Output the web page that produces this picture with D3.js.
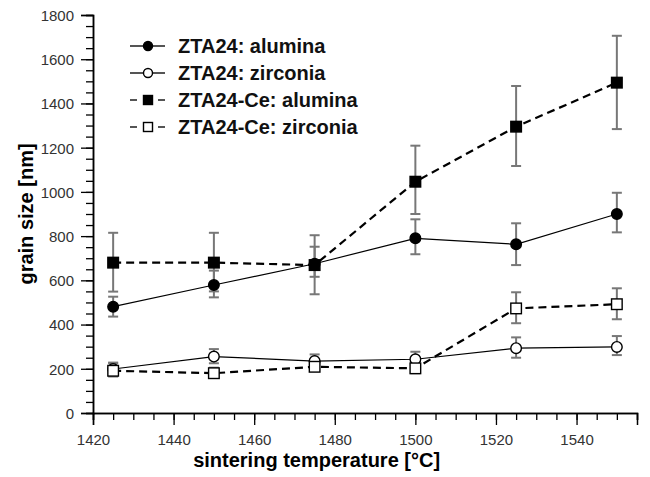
<!DOCTYPE html>
<html>
<head>
<meta charset="utf-8">
<script src="https://cdn.jsdelivr.net/npm/d3@7"></script>
<style>
  body { margin: 0; background: #fff; }
  svg text { font-family: Arial, "Liberation Sans", sans-serif; }
</style>
</head>
<body>
<svg id="chart"></svg>
<script>
// sintering temperatures (x)
var temps = [1425, 1450, 1475, 1500, 1525, 1550];

// ZTA24: alumina
var ztaAlu    = [481, 579, 675, 790, 763, 900];
var ztaAluLo  = [436, 523, 616, 718, 669, 817];
var ztaAluHi  = [526, 644, 752, 876, 858, 996];
// ZTA24: zirconia
var ztaZir    = [199, 255, 235, 243, 293, 299];
var ztaZirLo  = [175, 225, 205, 213, 250, 262];
var ztaZirHi  = [228, 289, 265, 277, 342, 348];
// ZTA24-Ce: alumina
var ceAlu     = [680, 680, 669, 1046, 1295, 1494];
var ceAluLo   = [549, 550, 537, 900, 1117, 1284];
var ceAluHi   = [815, 815, 804, 1209, 1479, 1706];
// ZTA24-Ce: zirconia
var ceZir     = [191, 180, 209, 202, 473, 492];
var ceZirLo   = [165, 160, 190, 180, 406, 424];
var ceZirHi   = [225, 205, 230, 225, 546, 564];

var seriesNames = ['ZTA24: alumina', 'ZTA24: zirconia', 'ZTA24-Ce: alumina', 'ZTA24-Ce: zirconia'];
var xTicks = [1420, 1440, 1460, 1480, 1500, 1520, 1540];
var yTicks = [0, 200, 400, 600, 800, 1000, 1200, 1400, 1600, 1800];

var width = 650, height = 477;
var svg = d3.select('#chart').attr('width', width).attr('height', height);

var x = d3.scaleLinear().domain([1420, 1555]).range([93, 637]);
var y = d3.scaleLinear().domain([0, 1800]).range([413, 15]);

var series = [
  { name: seriesNames[0], v: ztaAlu, lo: ztaAluLo, hi: ztaAluHi, shape: 'circle', fill: '#000', dash: null, w: 1.2 },
  { name: seriesNames[1], v: ztaZir, lo: ztaZirLo, hi: ztaZirHi, shape: 'circle', fill: '#fff', dash: null, w: 1.2 },
  { name: seriesNames[2], v: ceAlu,  lo: ceAluLo,  hi: ceAluHi,  shape: 'square', fill: '#000', dash: '8,5', w: 2.2 },
  { name: seriesNames[3], v: ceZir,  lo: ceZirLo,  hi: ceZirHi,  shape: 'square', fill: '#fff', dash: '8,5', w: 2.2 }
];

// axes: minor ticks first, then major with labels
function minor(axis, scale, step) {
  var d = scale.domain(), vals = d3.range(d[0], d[1] + 0.001, step);
  return axis(scale).tickValues(vals).tickSize(7).tickFormat('');
}

svg.append('g').attr('transform', 'translate(0,413)')
  .call(minor(d3.axisBottom, x, 5));
var xMajor = svg.append('g').attr('transform', 'translate(0,413)')
  .call(d3.axisBottom(x).tickValues(xTicks).tickSize(12).tickFormat(d3.format('d')));
xMajor.selectAll('text').attr('y', 32).attr('dy', 0);

svg.append('g').attr('transform', 'translate(93,0)')
  .call(minor(d3.axisLeft, y, 50));
var yMajor = svg.append('g').attr('transform', 'translate(93,0)')
  .call(d3.axisLeft(y).tickValues(yTicks).tickSize(12).tickFormat(d3.format('d')));
yMajor.selectAll('text').attr('x', -19).attr('dy', '0.36em');

svg.selectAll('.domain').attr('stroke', '#000').attr('stroke-width', 1.5);
svg.selectAll('.tick line').attr('stroke', '#000').attr('stroke-width', 1.3);
svg.selectAll('.tick text')
  .style('font-size', '15px')
  .attr('fill', '#333');

// axis titles
svg.append('text')
  .attr('x', x(1475) + 2).attr('y', 467)
  .attr('text-anchor', 'middle')
  .style('font-size', '20px').style('font-weight', 'bold')
  .text('sintering temperature [°C]');

svg.append('text')
  .attr('transform', 'translate(33,' + y(900) + ') rotate(-90)')
  .attr('text-anchor', 'middle')
  .style('font-size', '20px').style('font-weight', 'bold')
  .text('grain size [nm]');

// error bars
var errG = svg.append('g');
series.forEach(function(s) {
  temps.forEach(function(t, i) {
    var cx = x(t);
    errG.append('line').attr('x1', cx).attr('x2', cx)
      .attr('y1', y(s.lo[i])).attr('y2', y(s.hi[i]));
    [s.lo[i], s.hi[i]].forEach(function(e) {
      errG.append('line').attr('x1', cx - 5).attr('x2', cx + 5)
        .attr('y1', y(e)).attr('y2', y(e));
    });
  });
});
errG.selectAll('line').attr('stroke', '#777').attr('stroke-width', 2);

// lines
var line = d3.line()
  .x(function(d, i) { return x(temps[i]); })
  .y(function(d) { return y(d); });

series.forEach(function(s) {
  svg.append('path')
    .attr('d', line(s.v))
    .attr('fill', 'none')
    .attr('stroke', '#000')
    .attr('stroke-width', s.w)
    .attr('stroke-dasharray', s.dash);
});

function marker(g, s, cx, cy, r) {
  if (s.shape === 'circle') {
    g.append('circle').attr('cx', cx).attr('cy', cy).attr('r', r)
      .attr('fill', s.fill).attr('stroke', '#000').attr('stroke-width', 1.4);
  } else {
    g.append('rect').attr('x', cx - r).attr('y', cy - r).attr('width', 2 * r).attr('height', 2 * r)
      .attr('fill', s.fill).attr('stroke', '#000').attr('stroke-width', 1.4);
  }
}

var markG = svg.append('g');
series.forEach(function(s) {
  s.v.forEach(function(v, i) {
    marker(markG, s, x(temps[i]), y(v), 5.3);
  });
});

// legend
var legend = svg.append('g');
series.forEach(function(s, i) {
  var ly = 46 + i * 27;
  if (s.dash) {
    legend.append('line').attr('x1', 130).attr('x2', 137).attr('y1', ly).attr('y2', ly);
    legend.append('line').attr('x1', 158).attr('x2', 165).attr('y1', ly).attr('y2', ly);
  } else {
    legend.append('line').attr('x1', 130).attr('x2', 165).attr('y1', ly).attr('y2', ly);
  }
  legend.selectAll('line').attr('stroke', '#555').attr('stroke-width', 2);
  marker(legend, s, 148, ly, 4.5);
  legend.append('text')
    .attr('x', 178).attr('y', ly + 7)
    .style('font-size', '20px').style('font-weight', 'bold')
    .attr('fill', '#111')
    .text(s.name);
});
</script>
</body>
</html>
